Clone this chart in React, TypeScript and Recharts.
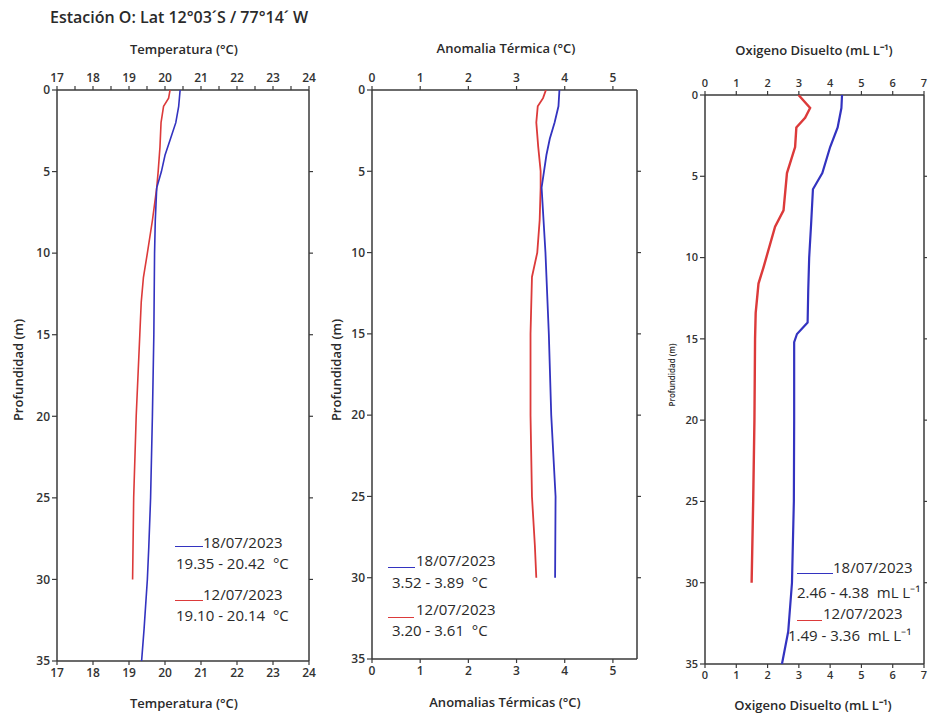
import React from 'react';
import { ScatterChart, Scatter, XAxis, YAxis } from 'recharts';

// ---------- data ----------
const depthTicks = [0, 5, 10, 15, 20, 25, 30, 35];
const rightDepthTicks = [5, 10, 15, 20, 25, 30];

// Temperatura (°C)
const tempBlueDepth = [0, 1, 2, 3, 4, 5, 6, 8, 10, 15, 20, 25, 28, 30, 33, 35];
const tempBlueValue = [20.42, 20.38, 20.3, 20.15, 20.0, 19.9, 19.77, 19.73, 19.71, 19.69, 19.65, 19.6, 19.55, 19.51, 19.42, 19.35];
const tempRedDepth = [0, 0.5, 1, 2, 3.5, 5, 6, 8, 10, 11.5, 13, 15, 20, 25, 30];
const tempRedValue = [20.14, 20.1, 19.96, 19.89, 19.86, 19.81, 19.77, 19.65, 19.51, 19.4, 19.34, 19.3, 19.2, 19.13, 19.1];
const tempTopTicks = [17, 17.5, 18, 18.5, 19, 19.5, 20, 20.5, 21, 21.5, 22, 22.5, 23, 23.5, 24];
const tempBottomTicks = [17, 18, 19, 20, 21, 22, 23, 24];

// Anomalía térmica (°C)
const anomBlueDepth = [0, 1, 2, 3, 4, 5, 6, 8, 10, 15, 20, 25, 30];
const anomBlueValue = [3.89, 3.87, 3.79, 3.69, 3.62, 3.57, 3.52, 3.56, 3.6, 3.67, 3.72, 3.81, 3.8];
const anomRedDepth = [0, 0.5, 1, 2, 3.5, 5, 6, 8, 10, 11.5, 15, 20, 25, 28, 30];
const anomRedValue = [3.61, 3.55, 3.44, 3.41, 3.45, 3.5, 3.5, 3.48, 3.43, 3.32, 3.29, 3.29, 3.32, 3.38, 3.41];
const anomTicks = [0, 1, 2, 3, 4, 5];

// Oxígeno disuelto (mL L-1)
const oxyBlueDepth = [0, 0.8, 2, 3.2, 4.8, 5.8, 8, 10, 12, 14, 14.7, 15.2, 20, 25, 30, 33, 35];
const oxyBlueValue = [4.38, 4.36, 4.24, 4.0, 3.75, 3.45, 3.39, 3.33, 3.3, 3.28, 2.94, 2.85, 2.85, 2.84, 2.78, 2.66, 2.46];
const oxyRedDepth = [0, 0.8, 1.4, 2, 3.2, 4.8, 7.1, 8.1, 10.6, 11.6, 13.4, 15, 20, 25, 30];
const oxyRedValue = [2.99, 3.36, 3.2, 2.92, 2.88, 2.62, 2.51, 2.24, 1.87, 1.71, 1.62, 1.6, 1.58, 1.54, 1.49];
const oxyTicks = [0, 1, 2, 3, 4, 5, 6, 7];

// legend texts
const dates = ['18/07/2023', '12/07/2023'];
const tempRanges = ['19.35 - 20.42  °C', '19.10 - 20.14  °C'];
const anomRanges = ['3.52 - 3.89  °C', '3.20 - 3.61  °C'];
const oxyRanges = ['2.46 - 4.38  mL L⁻¹', '1.49 - 3.36  mL L⁻¹'];

// ---------- styling ----------
const BLUE = '#3333c0';
const RED = '#dc3a3a';
const AXIS = '#3a3a3a';
const FONT = '"Open Sans", "Liberation Sans", sans-serif';

const toPts = (d: number[], v: number[]) => d.map((dep, i) => ({ depth: dep, v: v[i] }));
const noShape = () => <g />;
const fmtInt = (v: number) => (Number.isInteger(v) ? String(v) : '');

type Series = { pts: { depth: number; v: number }[]; color: string; width: number };

function Profile(props: {
  left: number;
  width: number;
  margin: { top: number; right: number; bottom: number; left: number };
  domain: [number, number];
  topTicks: number[];
  bottomTicks: number[];
  series: Series[];
  rightWidth: number;
  rightTickSize: number;
  fontSize: number;
}) {
  const { left, width, margin, domain, topTicks, bottomTicks, series, rightWidth, rightTickSize, fontSize } = props;
  const tickStyle = { fill: '#333', fontSize, fontFamily: FONT, fontWeight: 600 };
  const axisLine = { stroke: AXIS, strokeWidth: 1.5 };
  const tickLine = { stroke: AXIS, strokeWidth: 1.2 };
  const all = series.flatMap((s) => s.pts);
  return (
    <div style={{ position: 'absolute', left, top: 0 }}>
      <ScatterChart width={width} height={715} margin={margin}>
        <XAxis
          xAxisId="top"
          orientation="top"
          type="number"
          dataKey="v"
          domain={domain}
          allowDataOverflow
          ticks={topTicks}
          interval={0}
          tickFormatter={fmtInt}
          height={30}
          tickSize={4}
          tickMargin={4}
          axisLine={axisLine}
          tickLine={tickLine}
          tick={tickStyle}
        />
        <XAxis
          xAxisId="bottom"
          orientation="bottom"
          type="number"
          dataKey="v"
          domain={domain}
          allowDataOverflow
          ticks={bottomTicks}
          interval={0}
          height={30}
          tickSize={4}
          tickMargin={3}
          axisLine={axisLine}
          tickLine={tickLine}
          tick={tickStyle}
        />
        <YAxis
          yAxisId="left"
          type="number"
          dataKey="depth"
          domain={[0, 35]}
          allowDataOverflow
          reversed
          ticks={depthTicks}
          interval={0}
          width={30}
          tickSize={5}
          tickMargin={2}
          axisLine={axisLine}
          tickLine={tickLine}
          tick={tickStyle}
        />
        <YAxis
          yAxisId="right"
          orientation="right"
          type="number"
          dataKey="depth"
          domain={[0, 35]}
          allowDataOverflow
          reversed
          ticks={rightDepthTicks}
          interval={0}
          width={rightWidth}
          tickSize={rightTickSize}
          tickFormatter={() => ''}
          axisLine={axisLine}
          tickLine={tickLine}
          tick={tickStyle}
        />
        {series.map((s, i) => (
          <Scatter
            key={i}
            data={s.pts}
            xAxisId="bottom"
            yAxisId="left"
            line={{ stroke: s.color, strokeWidth: s.width }}
            lineType="joint"
            shape={noShape}
            isAnimationActive={false}
          />
        ))}
        <Scatter data={all} xAxisId="top" yAxisId="right" shape={noShape} isAnimationActive={false} />
      </ScatterChart>
    </div>
  );
}

function Txt(props: { x: number; y: number; size: number; weight?: number; children: React.ReactNode; align?: 'left' | 'center'; rotate?: boolean }) {
  const { x, y, size, weight = 600, children, align = 'center', rotate } = props;
  const tx = align === 'center' ? '-50%' : '0';
  return (
    <div
      style={{
        position: 'absolute',
        left: x,
        top: y,
        transform: `translate(${tx}, -50%)${rotate ? ' rotate(-90deg)' : ''}`,
        transformOrigin: align === 'center' ? 'center' : 'left center',
        fontFamily: FONT,
        fontSize: size,
        fontWeight: weight,
        color: '#2a2a2a',
        whiteSpace: 'pre',
        lineHeight: 1,
      }}
    >
      {children}
    </div>
  );
}

function LegendLine(props: { x1: number; x2: number; y: number; color: string }) {
  return (
    <div
      style={{
        position: 'absolute',
        left: props.x1,
        top: props.y,
        width: props.x2 - props.x1,
        height: 0,
        borderTop: `1.5px solid ${props.color}`,
      }}
    />
  );
}

const LEG = 15;

export default function App() {
  return (
    <div style={{ position: 'absolute', left: 0, top: 0, width: 930, height: 715, background: '#fff', overflow: 'hidden' }}>
      <Profile
        left={0}
        width={330}
        margin={{ top: 60, right: 11, bottom: 24, left: 27 }}
        domain={[17, 24]}
        topTicks={tempTopTicks}
        bottomTicks={tempBottomTicks}
        rightWidth={10}
        rightTickSize={4}
        fontSize={12}
        series={[
          { pts: toPts(tempRedDepth, tempRedValue), color: RED, width: 1.6 },
          { pts: toPts(tempBlueDepth, tempBlueValue), color: BLUE, width: 1.6 },
        ]}
      />
      <Profile
        left={330}
        width={320}
        margin={{ top: 60, right: 3, bottom: 26, left: 12 }}
        domain={[0, 5.5]}
        topTicks={anomTicks}
        bottomTicks={anomTicks}
        rightWidth={10}
        rightTickSize={4}
        fontSize={12}
        series={[
          { pts: toPts(anomRedDepth, anomRedValue), color: RED, width: 1.8 },
          { pts: toPts(anomBlueDepth, anomBlueValue), color: BLUE, width: 1.8 },
        ]}
      />
      <Profile
        left={650}
        width={280}
        margin={{ top: 65, right: 2, bottom: 21, left: 25 }}
        domain={[0, 7]}
        topTicks={oxyTicks}
        bottomTicks={oxyTicks}
        rightWidth={4}
        rightTickSize={3}
        fontSize={11}
        series={[
          { pts: toPts(oxyRedDepth, oxyRedValue), color: RED, width: 2.4 },
          { pts: toPts(oxyBlueDepth, oxyBlueValue), color: BLUE, width: 2.2 },
        ]}
      />

      {/* main title */}
      <Txt x={50} y={17} size={16} weight={600} align="left">Estación O: Lat 12°03´S / 77°14´ W</Txt>

      {/* axis titles */}
      <Txt x={184} y={49} size={13}>Temperatura (°C)</Txt>
      <Txt x={184} y={703} size={13}>Temperatura (°C)</Txt>
      <Txt x={18} y={370} size={13} rotate>Profundidad (m)</Txt>

      <Txt x={506} y={48} size={13}>Anomalia Térmica (°C)</Txt>
      <Txt x={505} y={702} size={13}>Anomalias Térmicas (°C)</Txt>
      <Txt x={336} y={370} size={13} rotate>Profundidad (m)</Txt>

      <Txt x={814} y={50} size={13}>Oxigeno Disuelto (mL L⁻¹)</Txt>
      <Txt x={813} y={705} size={13}>Oxigeno Disuelto (mL L⁻¹)</Txt>
      <Txt x={672} y={375} size={8} rotate>Profundidad (m)</Txt>

      {/* legends panel 1 */}
      <LegendLine x1={175} x2={203} y={546} color={BLUE} />
      <Txt x={203} y={542} size={LEG} weight={500} align="left">{dates[0]}</Txt>
      <Txt x={176} y={563} size={LEG} weight={500} align="left">{tempRanges[0]}</Txt>
      <LegendLine x1={175} x2={203} y={600} color={RED} />
      <Txt x={203} y={594} size={LEG} weight={500} align="left">{dates[1]}</Txt>
      <Txt x={176} y={615} size={LEG} weight={500} align="left">{tempRanges[1]}</Txt>

      {/* legends panel 2 */}
      <LegendLine x1={388} x2={415} y={567} color={BLUE} />
      <Txt x={416} y={560} size={LEG} weight={500} align="left">{dates[0]}</Txt>
      <Txt x={392} y={582} size={LEG} weight={500} align="left">{anomRanges[0]}</Txt>
      <LegendLine x1={388} x2={414} y={617} color={RED} />
      <Txt x={416} y={609} size={LEG} weight={500} align="left">{dates[1]}</Txt>
      <Txt x={392} y={630} size={LEG} weight={500} align="left">{anomRanges[1]}</Txt>

      {/* legends panel 3 */}
      <LegendLine x1={797} x2={833} y={573} color={BLUE} />
      <Txt x={833} y={567} size={LEG} weight={500} align="left">{dates[0]}</Txt>
      <Txt x={797} y={592} size={LEG} weight={500} align="left">{oxyRanges[0]}</Txt>
      <LegendLine x1={797} x2={822} y={620} color={RED} />
      <Txt x={823} y={613} size={LEG} weight={500} align="left">{dates[1]}</Txt>
      <Txt x={788} y={635} size={LEG} weight={500} align="left">{oxyRanges[1]}</Txt>
    </div>
  );
}
